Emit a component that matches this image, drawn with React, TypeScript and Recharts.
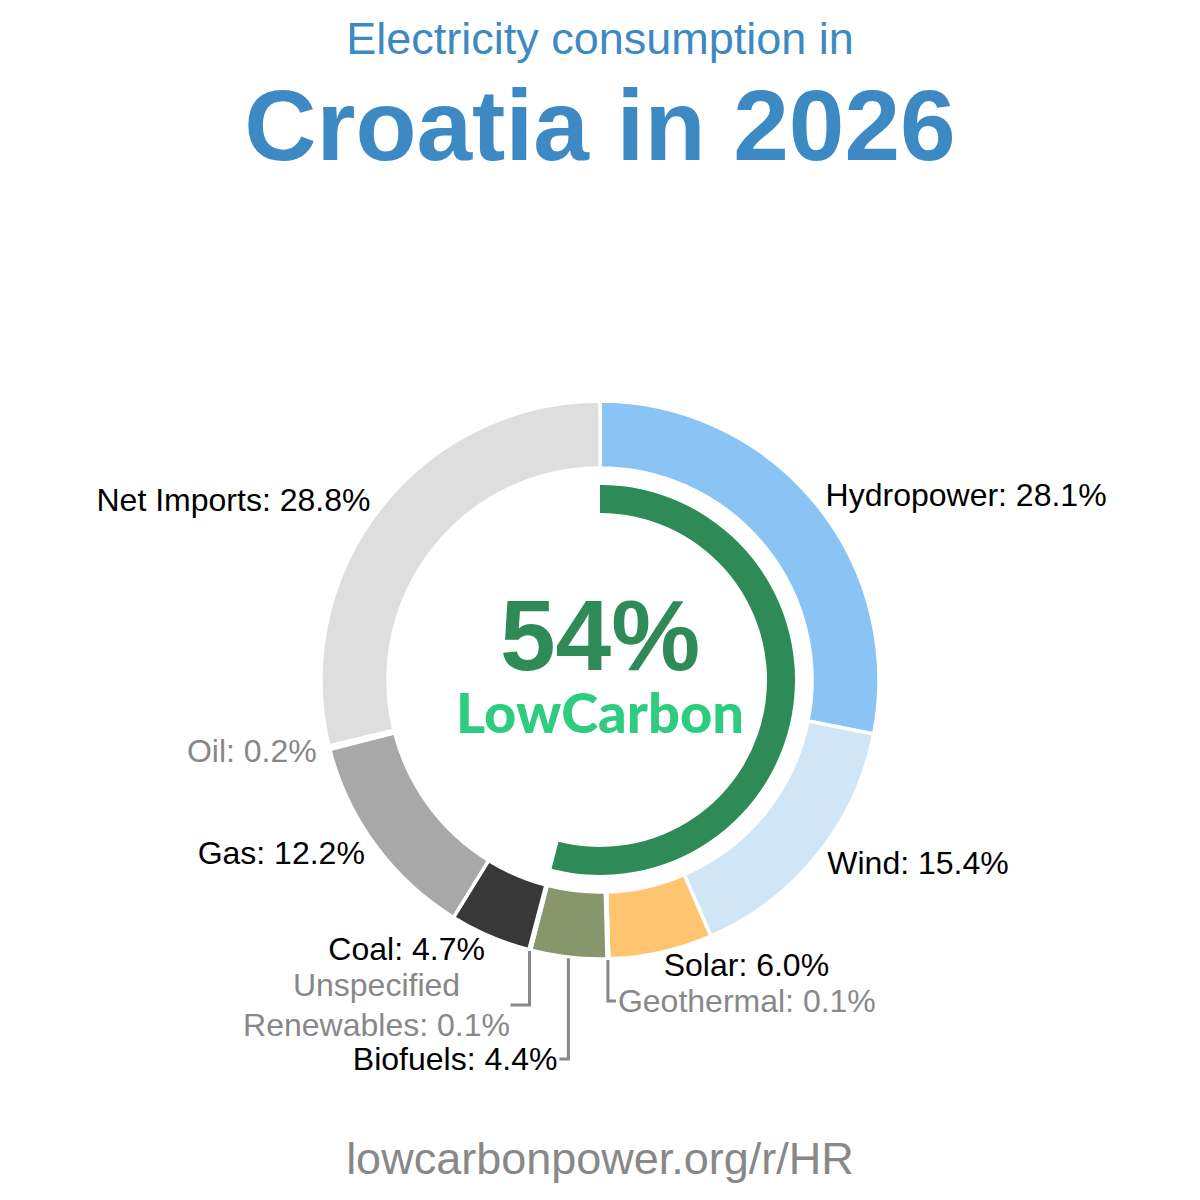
import React from 'react';
import { PieChart, Pie, Cell } from 'recharts';

const sources = ['Hydropower', 'Wind', 'Solar', 'Geothermal', 'Biofuels', 'Unspecified Renewables', 'Coal', 'Gas', 'Oil', 'Net Imports'];
const shares = [28.1, 15.4, 6.0, 0.1, 4.4, 0.1, 4.7, 12.2, 0.2, 28.8];
const colors = ['#89c4f4', '#d0e6f6', '#ffc470', '#e07b39', '#87966b', '#7fbf7f', '#383838', '#a8a8a8', '#606060', '#dedede'];
const lowCarbonShare = 54;
const titleLine1 = 'Electricity consumption in';
const titleLine2 = 'Croatia in 2026';
const centerLabel = 'LowCarbon';
const footer = 'lowcarbonpower.org/r/HR';

const data = sources.map((name, i) => ({ name, value: shares[i] }));
const ringData = [
  { name: 'low', value: lowCarbonShare },
  { name: 'rest', value: 100 - lowCarbonShare },
];

// leader-line layout for crowded labels
const leaders: Record<string, { drop: number; dir: number; hLen: number; twoLine?: boolean; half?: number }> = {
  Geothermal: { drop: 321, dir: 1, hLen: 8 },
  Biofuels: { drop: 379, dir: -1, hLen: 9 },
  'Unspecified Renewables': { drop: 325, dir: -1, hLen: 19, twoLine: true, half: 132 },
};

const FONT = '"Liberation Sans", Arial, sans-serif';
const FS = 32;
const RAD = Math.PI / 180;

const renderLabel = (props: any) => {
  const { cx, cy, midAngle, outerRadius, index } = props;
  const name = sources[index];
  const v = shares[index];
  const text = `${name}: ${v.toFixed(1)}%`;
  const color = v < 1 ? '#888888' : '#000000';
  const cos = Math.cos(-midAngle * RAD);
  const sin = Math.sin(-midAngle * RAD);
  const lead = leaders[name];
  if (lead) {
    const sx = cx + (outerRadius + 1) * cos;
    const sy = cy + (outerRadius + 1) * sin;
    const ey = cy + lead.drop;
    const ex = sx + lead.dir * lead.hLen;
    const lineEl = (
      <polyline points={`${sx},${sy} ${sx},${ey} ${ex},${ey}`} fill="none" stroke="#888888" strokeWidth={3} />
    );
    if (lead.twoLine) {
      const words = name.split(' ');
      const tx = ex - 2 - (lead.half || 0);
      return (
        <g key={`l-${index}`}>
          {lineEl}
          <text x={tx} y={ey - 20} dy="0.35em" textAnchor="middle" fill={color} fontSize={FS} fontFamily={FONT}>{words[0]}</text>
          <text x={tx} y={ey + 20} dy="0.35em" textAnchor="middle" fill={color} fontSize={FS} fontFamily={FONT}>{`${words.slice(1).join(' ')}: ${v.toFixed(1)}%`}</text>
        </g>
      );
    }
    return (
      <g key={`l-${index}`}>
        {lineEl}
        <text x={ex + lead.dir * 2} y={ey} dy="0.35em" textAnchor={lead.dir > 0 ? 'start' : 'end'} fill={color} fontSize={FS} fontFamily={FONT}>{text}</text>
      </g>
    );
  }
  const r = outerRadius + 13;
  const x = cx + r * cos;
  const y = cy + r * sin;
  return (
    <text key={`l-${index}`} x={x} y={y} dy="0.35em" textAnchor={cos >= 0 ? 'start' : 'end'} fill={color} fontSize={FS} fontFamily={FONT}>
      {text}
    </text>
  );
};

export default function App() {
  return (
    <div style={{ position: 'absolute', left: 0, top: 0, width: 1200, height: 1200, background: '#ffffff' }}>
      <PieChart width={1200} height={1200} margin={{ top: 0, right: 0, bottom: 0, left: 0 }}>
        <Pie
          data={data}
          dataKey="value"
          nameKey="name"
          cx={600}
          cy={680}
          innerRadius={212}
          outerRadius={279}
          startAngle={90}
          endAngle={-270}
          stroke="#ffffff"
          strokeWidth={3.5}
          label={renderLabel}
          labelLine={false}
          isAnimationActive={false}
        >
          {data.map((d, i) => (
            <Cell key={d.name} fill={colors[i]} />
          ))}
        </Pie>
        <Pie
          data={ringData}
          dataKey="value"
          cx={600}
          cy={680}
          innerRadius={167}
          outerRadius={195}
          startAngle={90}
          endAngle={-270}
          stroke="none"
          isAnimationActive={false}
        >
          <Cell fill="#2e8b57" />
          <Cell fill="none" />
        </Pie>
      </PieChart>
      <svg width={1200} height={1200} style={{ position: 'absolute', left: 0, top: 0, pointerEvents: 'none' }}>
        <text x={600} y={54} textAnchor="middle" fontSize={45} fontFamily={FONT} fill="#3d89c4">{titleLine1}</text>
        <text x={600} y={160} textAnchor="middle" fontSize={100} fontWeight="bold" fontFamily={FONT} fill="#3d89c4">{titleLine2}</text>
        <text x={600} y={670} textAnchor="middle" fontSize={100} fontWeight="bold" fontFamily={FONT} fill="#2e8b57">{`${lowCarbonShare}%`}</text>
        <text x={600} y={733} textAnchor="middle" fontSize={56} fontWeight={900} fontFamily="Lato, sans-serif" fill="#2ecc80">{centerLabel}</text>
        <text x={600} y={1174} textAnchor="middle" fontSize={45} fontFamily={FONT} fill="#888888">{footer}</text>
      </svg>
    </div>
  );
}
